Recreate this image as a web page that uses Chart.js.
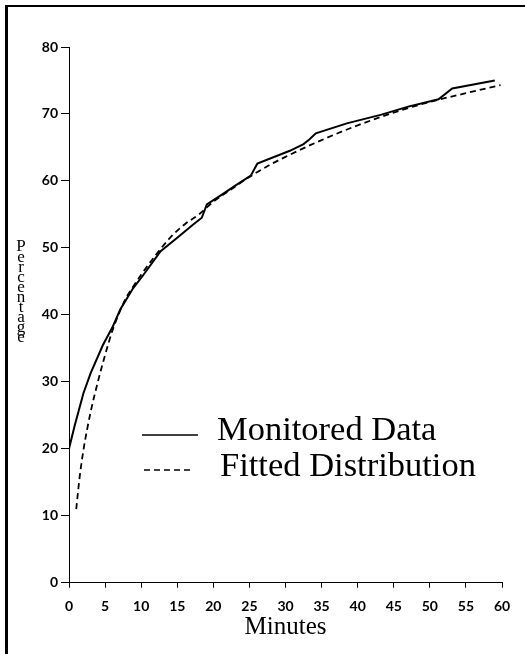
<!DOCTYPE html>
<html>
<head>
<meta charset="utf-8">
<script src="https://cdn.jsdelivr.net/npm/chart.js@4"></script>
<style>
  html, body { margin: 0; padding: 0; background: #fff; }
  #chart { display: block; }
</style>
</head>
<body>
<canvas id="chart" width="525" height="654"></canvas>
<script>
'use strict';

// Monitored data (solid line)
const monitoredMinutes = [0, 0.8, 2, 3, 4.7, 6, 7.1, 8.9, 10.2, 12.7, 15, 17, 18.4, 19.1, 21.4, 23.2, 25.2, 26.1, 30.6, 32.5, 33.3, 34.2, 38.5, 43.3, 47, 51.2, 53.1, 59];
const monitoredPct = [20, 23.5, 28.3, 31.3, 35.5, 38.1, 40.8, 44, 45.8, 49.5, 51.5, 53.3, 54.5, 56.5, 58.1, 59.4, 60.8, 62.6, 64.5, 65.5, 66.2, 67.1, 68.6, 69.9, 71.1, 72.2, 73.8, 75];

// Fitted distribution (dashed line)
const fittedMinutes = [1, 1.5, 2, 3, 4, 5, 6, 7, 8, 9, 10, 12, 14, 16, 18, 20, 22, 25, 28, 30, 35, 40, 45, 50, 55, 59.8];
const fittedPct = [11, 16, 19.8, 25.5, 30, 34, 37.6, 40.4, 42.7, 44.4, 46, 48.9, 51.5, 53.5, 55.0, 56.9, 58.4, 60.6, 62.5, 63.6, 66.1, 68.3, 70.2, 71.8, 73.1, 74.3];

const yTitle = 'Percentage';
const xTitle = 'Minutes';

const toPoints = (xs, ys) => xs.map((x, i) => ({ x: x, y: ys[i] }));

// frame, stacked y title and in-plot legend
const decorations = {
  id: 'decorations',
  beforeDraw(chart) {
    const ctx = chart.ctx;
    ctx.save();
    ctx.fillStyle = '#000';
    ctx.fillRect(5, 5, 3, 649);
    ctx.fillRect(5, 5, 520, 2);
    ctx.restore();
  },
  afterDraw(chart) {
    const ctx = chart.ctx;
    ctx.save();
    ctx.fillStyle = '#000';
    ctx.textAlign = 'center';
    ctx.textBaseline = 'alphabetic';
    ctx.font = '17px "Liberation Serif"';
    yTitle.split('').forEach((ch, i) => {
      const base = i === 0 ? 251 : 251.5 + i * 10;
      ctx.fillText(ch, 21, base);
    });

    const rows = [
      { x0: 142, x1: 198, ly: 435, tx: 217, ty: 440 },
      { x0: 144, x1: 193, ly: 470, tx: 220, ty: 476 },
    ];
    chart.data.datasets.forEach((ds, i) => {
      const r = rows[i];
      ctx.strokeStyle = ds.borderColor;
      ctx.lineWidth = 1.6;
      ctx.setLineDash(ds.borderDash || []);
      ctx.beginPath();
      ctx.moveTo(r.x0, r.ly);
      ctx.lineTo(r.x1, r.ly);
      ctx.stroke();
      ctx.setLineDash([]);
      ctx.textAlign = 'left';
      ctx.font = '34.5px "Liberation Serif"';
      ctx.fillText(ds.label, r.tx, r.ty);
    });
    ctx.restore();
  }
};

const tickFont = { family: 'Lato', size: 14, weight: 'bold' };

new Chart(document.getElementById('chart'), {
  type: 'line',
  data: {
    datasets: [
      {
        label: 'Monitored Data',
        data: toPoints(monitoredMinutes, monitoredPct),
        borderColor: '#000',
        borderWidth: 2,
        pointRadius: 0,
        tension: 0,
      },
      {
        label: 'Fitted Distribution',
        data: toPoints(fittedMinutes, fittedPct),
        borderColor: '#000',
        borderWidth: 1.8,
        borderDash: [6, 4],
        pointRadius: 0,
        cubicInterpolationMode: 'monotone',
      },
    ],
  },
  options: {
    responsive: false,
    animation: false,
    layout: { padding: { top: 47, right: 23, bottom: 0, left: 0 } },
    plugins: {
      legend: { display: false },
      tooltip: { enabled: false },
    },
    scales: {
      x: {
        type: 'linear',
        min: 0,
        max: 60,
        ticks: { stepSize: 5, color: '#000', font: tickFont, padding: 10, maxRotation: 0 },
        grid: { drawOnChartArea: false, drawTicks: true, tickLength: 5, color: '#000' },
        border: { color: '#000', width: 1 },
        title: {
          display: true,
          text: xTitle,
          color: '#000',
          font: { family: 'Liberation Serif', size: 25 },
          padding: { top: 0, bottom: 12 },
        },
        afterFit(scale) { scale.height = 71.3; },
      },
      y: {
        type: 'linear',
        min: 0,
        max: 80,
        ticks: { stepSize: 10, color: '#000', font: tickFont, padding: 3 },
        grid: { drawOnChartArea: false, drawTicks: true, tickLength: 8, color: '#000' },
        border: { color: '#000', width: 1 },
        afterFit(scale) { scale.width = 69; },
      },
    },
  },
  plugins: [decorations],
});
</script>
</body>
</html>
